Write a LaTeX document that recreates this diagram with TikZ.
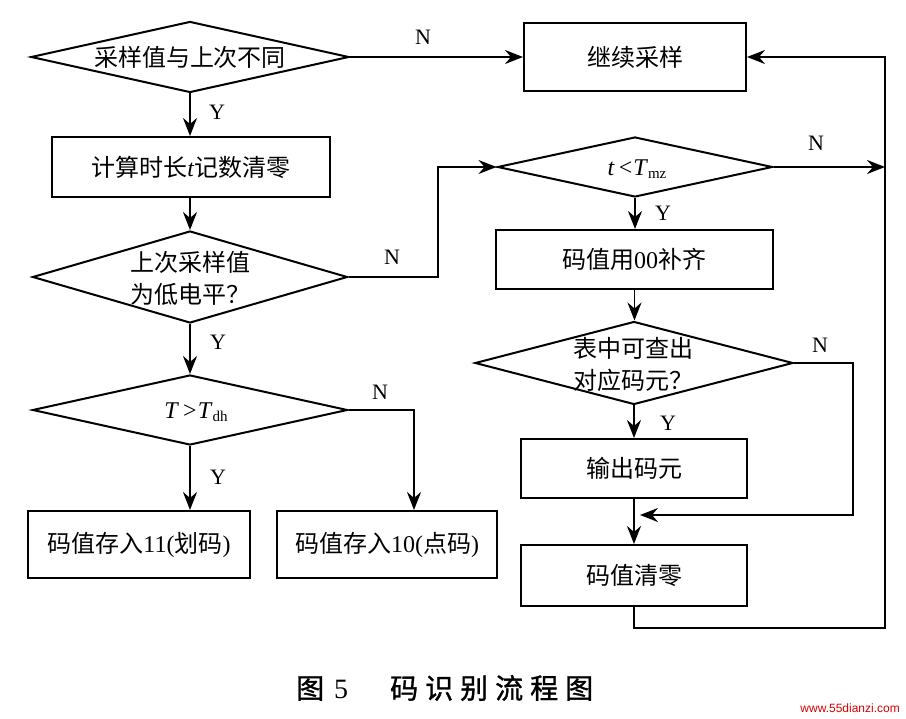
\documentclass[tikz,border=0pt]{standalone}
\usepackage{fontspec}
\setmainfont{Liberation Serif}
\newfontfamily\cjk{Noto Sans CJK SC}
\newfontfamily\cjkcap{Noto Sans CJK SC}[FakeBold=1.2]
\newfontfamily\wmfont{Liberation Sans}
\usetikzlibrary{shapes.geometric,arrows.meta}
\begin{document}
\begin{tikzpicture}[x=1pt,y=-1pt,
  dia/.style={draw, diamond, line width=2pt, inner sep=0pt},
  box/.style={draw, rectangle, line width=2pt, inner sep=0pt},
  txt/.style={inner sep=0pt, align=center, font=\fontsize{24}{32}\selectfont},
  lbl/.style={inner sep=0pt, font=\fontsize{22}{22}\selectfont},
  ln/.style={line width=1.9pt},
  arr/.style={line width=1.9pt, -{Stealth[length=18pt,width=14pt,inset=6pt]}}]
\useasboundingbox (0,0) rectangle (906,719);
\fill[white] (0,0) rectangle (906,719);

% shapes
\node[dia, minimum width=318pt, minimum height=71pt] (D1) at (190,57) {};
\node[txt] (D1t) at (190,57) {\cjk 采样值与上次不同};
\node[box, minimum width=222pt, minimum height=68pt] (BC) at (635,57) {};
\node[txt] (BCt) at (635,57) {\cjk 继续采样};
\node[box, minimum width=278pt, minimum height=60pt] (B1) at (191,167) {};
\node[txt] (B1t) at (191,167) {{\cjk 计算时长}\textit{t}{\cjk 记数清零}};
\node[dia, minimum width=315pt, minimum height=92pt] (D2) at (190,277) {};
\node[txt] (D2t) at (190,278) {\cjk 上次采样值\\\cjk 为低电平？};
\node[dia, minimum width=275pt, minimum height=60pt] (D3) at (635,167) {};
\node[txt] (D3t) at (637,169) {\textit{t}\,<\hspace{1pt}\textit{T}\raisebox{-3pt}{\fontsize{15}{15}\selectfont mz}};
\node[box, minimum width=277pt, minimum height=59pt] (B2) at (634.5,259.5) {};
\node[txt] (B2t) at (634,259.5) {{\cjk 码值用}00{\cjk 补齐}};
\node[dia, minimum width=318pt, minimum height=83pt] (D4) at (634,363) {};
\node[txt] (D4t) at (633,364) {\cjk 表中可查出\\\cjk 对应码元？};
\node[box, minimum width=226pt, minimum height=59pt] (B3) at (634,468.5) {};
\node[txt] (B3t) at (634,468.5) {\cjk 输出码元};
\node[box, minimum width=226pt, minimum height=61pt] (B4) at (634,575.5) {};
\node[txt] (B4t) at (634,575.5) {\cjk 码值清零};
\node[dia, minimum width=315pt, minimum height=70pt] (D5) at (190,410) {};
\node[txt] (D5t) at (196,412) {\textit{T}\,>\hspace{1pt}\textit{T}\raisebox{-3pt}{\fontsize{15}{15}\selectfont dh}};
\node[box, minimum width=222pt, minimum height=67pt] (B5) at (139,544.5) {};
\node[txt] (B5t) at (139,545) {{\cjk 码值存入}11({\cjk 划码})};
\node[box, minimum width=220pt, minimum height=67pt] (B6) at (387,544.5) {};
\node[txt] (B6t) at (387,545) {{\cjk 码值存入}10({\cjk 点码})};

% helper coordinates
\coordinate (c1) at (438,277);
\coordinate (r1) at (885,167);
\coordinate (c2) at (853,363);
\coordinate (m) at (634,515);
\coordinate (c3) at (634,628);
\coordinate (c4) at (885,628);
\coordinate (c5) at (885,57);
\coordinate (k) at (414,410);

% connectors
\draw[arr] (D1.east) -- (BC.west);
\draw[arr] (D1.south) -- (D1.south |- B1.north);
\draw[arr] (B1.south -| D2.north) -- (D2.north);
\draw[arr] (D2.east) -- (c1) |- (D3.west);
\draw[arr] (D3.east) -- (r1);
\draw[arr] (D3.south) -- (D3.south |- B2.north);
\draw[arr] (B2.south) -- (B2.south |- D4.north);
\draw[arr] (D4.south) -- (D4.south |- B3.north);
\draw[arr, shorten >=6pt] (D4.east) -- (c2) |- (m);
\draw[arr] (B3.south) -- (B3.south |- B4.north);
\draw[arr] (B4.south) -- (c3) -- (c4) -- (c5) -- (BC.east);
\draw[arr] (D2.south) -- (D5.north);
\draw[arr] (D5.south) -- (D5.south |- B5.north);
\draw[arr] (D5.east) -- (k) -- (k |- B6.north);

% labels
\node[lbl] (n1) at (423,37) {N};
\node[lbl] (y1) at (217,112) {Y};
\node[lbl] (n2) at (392,257) {N};
\node[lbl] (n3) at (816,143) {N};
\node[lbl] (y2) at (663,213) {Y};
\node[lbl] (y3) at (218,342) {Y};
\node[lbl] (n4) at (820,345) {N};
\node[lbl] (y4) at (668,423) {Y};
\node[lbl] (n5) at (380,392) {N};
\node[lbl] (y6) at (218,477) {Y};

% caption
\node[inner sep=0pt, anchor=west, font=\fontsize{28}{28}\selectfont] (cap) at (296,688)
  {{\cjkcap 图}\hspace{10pt}5\hspace{42pt}{\cjkcap 码\hspace{7pt}识\hspace{7pt}别\hspace{7pt}流\hspace{7pt}程\hspace{7pt}图}};
\node[inner sep=0pt, anchor=east, text=red!85!black, font=\wmfont\fontsize{12}{12}\selectfont] (wm) at (900,708) {www.55dianzi.com};
\end{tikzpicture}
\end{document}
